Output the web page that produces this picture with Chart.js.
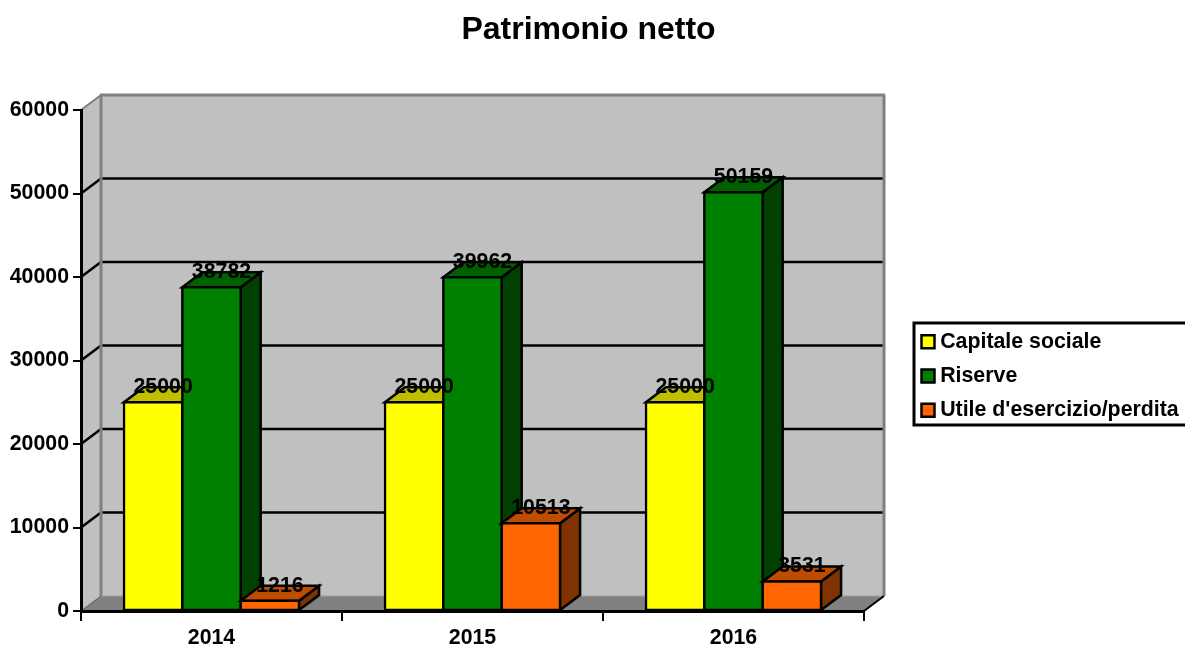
<!DOCTYPE html>
<html>
<head>
<meta charset="utf-8">
<title>Patrimonio netto</title>
<script src="https://cdn.jsdelivr.net/npm/chart.js@4/dist/chart.umd.min.js"></script>
<style>
html, body { margin: 0; padding: 0; background: #fff; overflow: hidden; }
canvas { display: block; }
</style>
</head>
<body>
<canvas id="myChart" width="1185" height="646"></canvas>
<script>
var years = ["2014", "2015", "2016"];
var capitaleSociale = [25000, 25000, 25000];
var riserve = [38782, 39962, 50159];
var utile = [1216, 10513, 3531];

var seriesNames = ["Capitale sociale", "Riserve", "Utile d'esercizio/perdita"];
var frontColors = ["#ffff00", "#008000", "#ff6600"];
var topColors = ["#bfbf00", "#006000", "#bf4c00"];
var sideColors = ["#7f7f00", "#004000", "#7f3300"];

var fontName = "'Liberation Sans', Arial, sans-serif";
var depthX = 20;
var depthY = 15;

function poly(ctx, pts, fill, stroke, width) {
    ctx.beginPath();
    ctx.moveTo(pts[0][0], pts[0][1]);
    for (var i = 1; i < pts.length; i++) {
        ctx.lineTo(pts[i][0], pts[i][1]);
    }
    ctx.closePath();
    if (fill) {
        ctx.fillStyle = fill;
        ctx.fill();
    }
    if (stroke) {
        ctx.strokeStyle = stroke;
        ctx.lineWidth = width;
        ctx.stroke();
    }
}

function segment(ctx, x1, y1, x2, y2, color, width) {
    ctx.beginPath();
    ctx.moveTo(x1, y1);
    ctx.lineTo(x2, y2);
    ctx.strokeStyle = color;
    ctx.lineWidth = width;
    ctx.stroke();
}

// walls, floor and gridlines of the fake 3D box
var wallsPlugin = {
    id: "walls",
    beforeDraw: function (chart) {
        var ctx = chart.ctx;
        var a = chart.chartArea;
        var yScale = chart.scales.y;
        ctx.save();
        poly(ctx, [[a.left + depthX, a.top - depthY], [a.right + depthX, a.top - depthY], [a.right + depthX, a.bottom - depthY], [a.left + depthX, a.bottom - depthY]], "#c0c0c0");
        poly(ctx, [[a.left, a.top], [a.left + depthX, a.top - depthY], [a.left + depthX, a.bottom - depthY], [a.left, a.bottom]], "#c0c0c0");
        poly(ctx, [[a.left, a.bottom], [a.left + depthX, a.bottom - depthY], [a.right + depthX, a.bottom - depthY], [a.right, a.bottom]], "#808080");
        var ticks = yScale.ticks;
        for (var i = 0; i < ticks.length; i++) {
            var v = ticks[i].value;
            if (v === 0 || v === yScale.max) continue;
            var y = yScale.getPixelForValue(v);
            segment(ctx, a.left, y, a.left + depthX, y - depthY, "#000", 2.5);
            segment(ctx, a.left + depthX, y - depthY, a.right + depthX, y - depthY, "#000", 2.5);
        }
        segment(ctx, a.left, a.top, a.left + depthX, a.top - depthY, "#808080", 2);
        segment(ctx, a.left + depthX - 1, a.top - depthY, a.right + depthX + 1, a.top - depthY, "#808080", 3);
        segment(ctx, a.left + depthX, a.top - depthY, a.left + depthX, a.bottom - depthY, "#808080", 3);
        segment(ctx, a.right + depthX, a.top - depthY, a.right + depthX, a.bottom - depthY, "#808080", 3);
        segment(ctx, a.left + depthX, a.bottom - depthY, a.right + depthX, a.bottom - depthY, "#a0a0a0", 1);
        segment(ctx, a.left, a.bottom, a.left + depthX, a.bottom - depthY, "#555", 1);
        segment(ctx, a.right, a.bottom, a.right + depthX, a.bottom - depthY, "#000", 2);
        ctx.restore();
    },
    afterLayout: function (chart) {
        // title is centred on the figure minus a bit, legend sits in its own box
        var title = chart.titleBlock;
        title.left = 0;
        title.right = 1177;
        var legend = chart.legend;
        legend.left = 913.5;
        legend.right = 1185;
        legend.width = 271.5;
        legend.top = 318;
        legend.bottom = 480;
        legend.height = 162;
    },
    // chart.js paints the last dataset first, the boxes have to go left to right
    beforeDatasetsDraw: function (chart) {
        var ctx = chart.ctx;
        ctx.save();
        for (var d = 0; d < chart.data.datasets.length; d++) {
            var elements = chart.getDatasetMeta(d).data;
            for (var i = 0; i < elements.length; i++) {
                var el = elements[i];
                var half = el.width / 2;
                var left = el.x - half;
                var right = el.x + half;
                var top = el.y;
                var base = el.base;
                poly(ctx, [[right, top], [right + depthX, top - depthY], [right + depthX, base - depthY], [right, base]], sideColors[d], "#000", 2.5);
                poly(ctx, [[left, top], [left + depthX, top - depthY], [right + depthX, top - depthY], [right, top]], topColors[d], "#000", 2.5);
                el.draw(ctx);
            }
        }
        ctx.restore();
    },
    beforeDatasetDraw: function () {
        return false;
    },
    afterDatasetsDraw: function (chart) {
        var ctx = chart.ctx;
        ctx.save();
        ctx.font = "bold 21.33px " + fontName;
        ctx.fillStyle = "#000";
        ctx.textAlign = "center";
        ctx.textBaseline = "middle";
        chart.data.datasets.forEach(function (ds, d) {
            var elements = chart.getDatasetMeta(d).data;
            for (var i = 0; i < elements.length; i++) {
                ctx.fillText(String(ds.data[i]), elements[i].x + depthX / 2, elements[i].y - depthY);
            }
        });
        ctx.restore();
    },
    afterDraw: function (chart) {
        var ctx = chart.ctx;
        ctx.save();
        ctx.strokeStyle = "#000";
        ctx.lineWidth = 3;
        ctx.strokeRect(914, 323, 280, 102);
        ctx.restore();
    }
};

function makeDataset(i, values) {
    return {
        label: seriesNames[i],
        data: values,
        backgroundColor: frontColors[i],
        borderColor: "#000",
        borderWidth: 2.5,
        borderSkipped: false,
        inflateAmount: 1.25
    };
}

var ctx = document.getElementById("myChart").getContext("2d");
var myChart = new Chart(ctx, {
    type: "bar",
    data: {
        labels: years,
        datasets: [
            makeDataset(0, capitaleSociale),
            makeDataset(1, riserve),
            makeDataset(2, utile)
        ]
    },
    plugins: [wallsPlugin],
    options: {
        responsive: false,
        animation: false,
        categoryPercentage: 0.671,
        barPercentage: 1,
        layout: { padding: { left: 0, right: 321, top: 0, bottom: 0 } },
        plugins: {
            title: {
                display: true,
                text: "Patrimonio netto",
                color: "#000",
                font: { family: fontName, size: 32, weight: "bold" },
                padding: { top: 11, bottom: 60.6 }
            },
            legend: {
                position: "chartArea",
                align: "start",
                labels: {
                    color: "#000",
                    font: { family: fontName, size: 21.33, weight: "bold" },
                    usePointStyle: true,
                    pointStyle: "rect",
                    boxWidth: 3,
                    boxHeight: 13,
                    padding: 13
                }
            },
            tooltip: { enabled: false }
        },
        scales: {
            x: {
                afterFit: function (scale) { scale.height = 35; },
                border: { color: "#000", width: 3 },
                grid: { drawOnChartArea: false, color: "#000", tickColor: "#000", tickLength: 10, lineWidth: 2 },
                ticks: { color: "#000", padding: 4, maxRotation: 0, font: { family: fontName, size: 21.33, weight: "bold" } }
            },
            y: {
                min: 0,
                max: 60000,
                afterFit: function (scale) { scale.width = 81; },
                border: { color: "#000", width: 3 },
                grid: { drawOnChartArea: false, color: "#000", tickColor: "#000", tickLength: 8, lineWidth: 2 },
                ticks: {
                    stepSize: 10000,
                    color: "#000",
                    padding: 4,
                    font: { family: fontName, size: 21.33, weight: "bold" },
                    callback: function (value) { return String(value); }
                }
            }
        }
    }
});
</script>
</body>
</html>
